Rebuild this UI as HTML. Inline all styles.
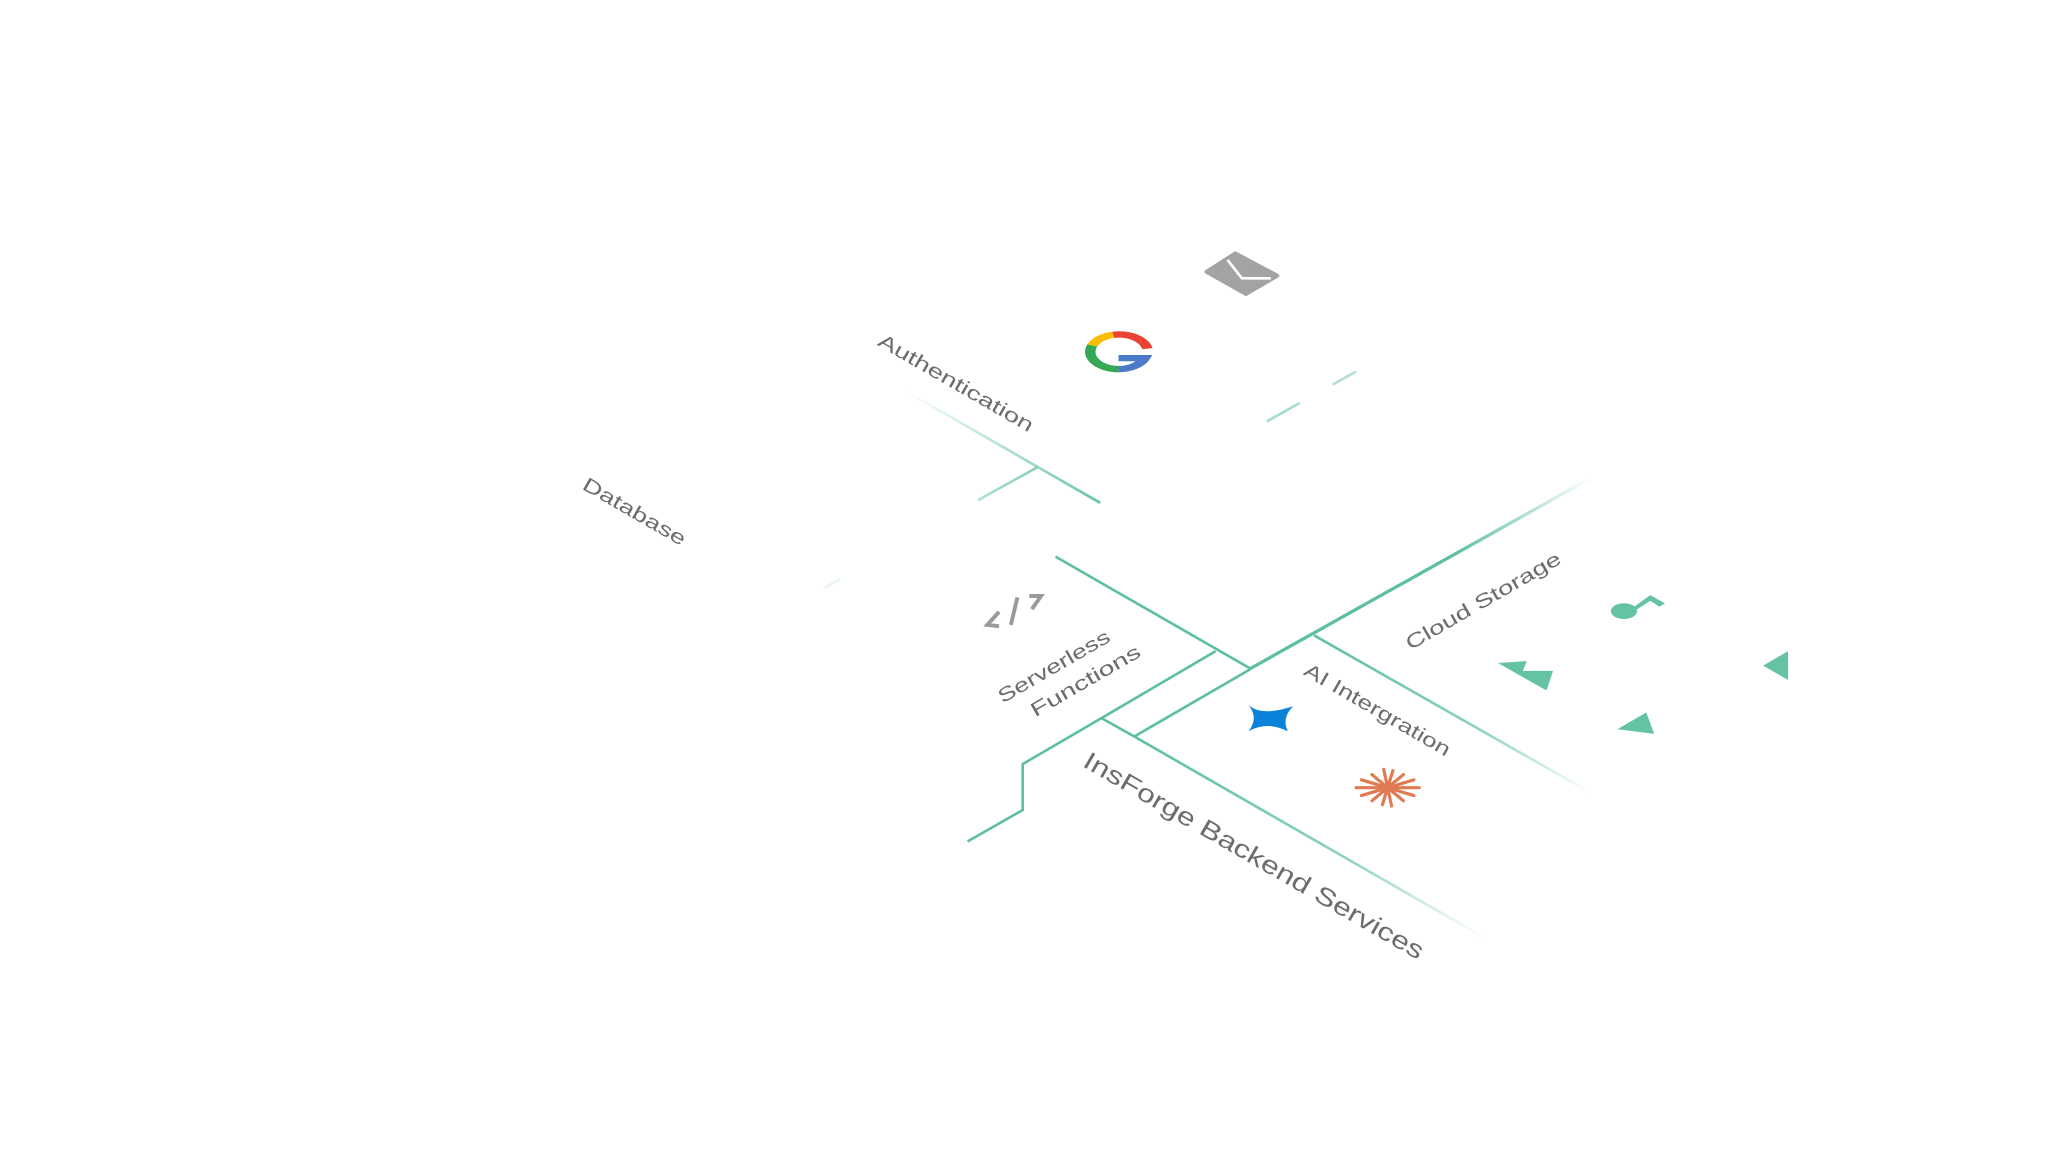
<!DOCTYPE html>
<html><head><meta charset="utf-8"><style>
html,body{margin:0;padding:0;background:#fff;}
svg{display:block;}
text{font-family:"Liberation Sans",Arial,sans-serif;fill:#6c6c6c;}
</style></head><body>
<svg width="2048" height="1152" viewBox="0 0 1560 877.5" preserveAspectRatio="none" xmlns="http://www.w3.org/2000/svg">
<defs>
<linearGradient id="gAuth" gradientUnits="userSpaceOnUse" x1="690" y1="298" x2="838" y2="383"><stop offset="0" stop-color="#66c4a4" stop-opacity="0"/><stop offset="0.6" stop-color="#66c4a4" stop-opacity="0.6"/><stop offset="1" stop-color="#66c4a4"/></linearGradient>
<linearGradient id="gBr" gradientUnits="userSpaceOnUse" x1="790" y1="356" x2="745" y2="381"><stop offset="0" stop-color="#66c4a4" stop-opacity="0.8"/><stop offset="1" stop-color="#66c4a4" stop-opacity="0.5"/></linearGradient>
<linearGradient id="gUp" gradientUnits="userSpaceOnUse" x1="951" y1="510" x2="1212" y2="364"><stop offset="0" stop-color="#5cc09e"/><stop offset="0.6" stop-color="#5cc09e"/><stop offset="1" stop-color="#5cc09e" stop-opacity="0"/></linearGradient>
<linearGradient id="gAI" gradientUnits="userSpaceOnUse" x1="1001" y1="484" x2="1212" y2="604"><stop offset="0" stop-color="#5cc09e"/><stop offset="0.6" stop-color="#5cc09e" stop-opacity="0.7"/><stop offset="1" stop-color="#5cc09e" stop-opacity="0"/></linearGradient>
<linearGradient id="gIns" gradientUnits="userSpaceOnUse" x1="864" y1="561" x2="1132" y2="715"><stop offset="0" stop-color="#5cc09e"/><stop offset="0.6" stop-color="#5cc09e" stop-opacity="0.7"/><stop offset="1" stop-color="#5cc09e" stop-opacity="0"/></linearGradient>
</defs>
<g fill="none" stroke-linecap="butt">
<line x1="690" y1="298" x2="838" y2="383" stroke="url(#gAuth)" stroke-width="2"/>
<line x1="790" y1="356" x2="745" y2="381" stroke="url(#gBr)" stroke-width="2"/>
<line x1="965" y1="321" x2="990" y2="307" stroke="#66c4a4" stroke-opacity="0.6" stroke-width="2"/>
<line x1="1015" y1="293" x2="1033" y2="283" stroke="#66c4a4" stroke-opacity="0.5" stroke-width="2"/>
<line x1="628" y1="448" x2="640" y2="441" stroke="#66c4a4" stroke-opacity="0.15" stroke-width="2"/>
<line x1="804" y1="424" x2="952" y2="509" stroke="#5cc09e" stroke-width="2"/>
<line x1="864" y1="561" x2="952" y2="510" stroke="#5cc09e" stroke-width="2"/>
<line x1="951" y1="510" x2="1212" y2="364" stroke="url(#gUp)" stroke-width="2.5"/>
<line x1="1001" y1="484" x2="1212" y2="604" stroke="url(#gAI)" stroke-width="2"/>
<polyline points="926,496 839,547 779,582 779,617 737,641" stroke="#5cc09e" stroke-width="2"/>
<line x1="839" y1="547" x2="864" y2="561" stroke="#5cc09e" stroke-width="2"/>
<line x1="864" y1="561" x2="1132" y2="715" stroke="url(#gIns)" stroke-width="2"/>
</g>
<text transform="translate(728,292) rotate(30)" text-anchor="middle" dominant-baseline="central" font-size="15" textLength="134" lengthAdjust="spacingAndGlyphs">Authentication</text>
<text transform="translate(483,390) rotate(30)" text-anchor="middle" dominant-baseline="central" font-size="15" textLength="88" lengthAdjust="spacingAndGlyphs">Database</text>
<text transform="translate(803,508) rotate(-30)" text-anchor="middle" dominant-baseline="central" font-size="15" textLength="96" lengthAdjust="spacingAndGlyphs">Serverless</text>
<text transform="translate(827,519) rotate(-30)" text-anchor="middle" dominant-baseline="central" font-size="15" textLength="94" lengthAdjust="spacingAndGlyphs">Functions</text>
<text transform="translate(1130,458) rotate(-30)" text-anchor="middle" dominant-baseline="central" font-size="15" textLength="134" lengthAdjust="spacingAndGlyphs">Cloud Storage</text>
<text transform="translate(1049,541) rotate(30)" text-anchor="middle" dominant-baseline="central" font-size="15" textLength="126" lengthAdjust="spacingAndGlyphs">AI Intergration</text>
<text transform="translate(955,652) rotate(30)" text-anchor="middle" dominant-baseline="central" font-size="19" textLength="296" lengthAdjust="spacingAndGlyphs">InsForge Backend Services</text>
<path d="M919,207 L941,193 L973,210 L949,224 Z" fill="#a3a3a3" stroke="#a3a3a3" stroke-width="3" stroke-linejoin="round"/>
<polyline points="935,198 946,212 968,212" fill="none" stroke="#fff" stroke-width="2"/>
<g transform="translate(852,268) scale(1,0.6)">
<path d="M-20,-8 A22,22 0 0 1 -4,-21.6" fill="none" stroke="#fbbc05" stroke-width="8"/>
<path d="M-4,-21.6 A22,22 0 0 1 22,-4" fill="none" stroke="#ea4335" stroke-width="8"/>
<path d="M-20,-8 A22,22 0 0 0 0,22" fill="none" stroke="#34a853" stroke-width="8"/>
<path d="M0,22 A22,22 0 0 0 20,8 L0,8" fill="none" stroke="#4a7ac8" stroke-width="8"/>
</g>
<g stroke="#9a9a9a" stroke-width="3" fill="none">
<polyline points="761,466 752,476 761,477"/>
<line x1="775" y1="455" x2="770" y2="476"/>
<polyline points="784,454 793,454 786,464"/>
</g>
<path d="M951,537 Q961,546 985,538 Q976,547 981,557 Q965,549 951,557 Q959,547 951,537 Z" fill="#0a82d8"/>
<g stroke="#e07a52" stroke-width="2.4" stroke-linecap="round" transform="translate(1057,600)">
<line x1="-24" y1="0" x2="24" y2="0"/><line x1="-20" y1="-6" x2="20" y2="6"/><line x1="-20" y1="6" x2="20" y2="-6"/>
<line x1="-12" y1="-10" x2="12" y2="10"/><line x1="-12" y1="10" x2="12" y2="-10"/>
<line x1="-3" y1="-14" x2="3" y2="14"/><line x1="4" y1="-13" x2="-4" y2="13"/>
</g>
<ellipse cx="1237" cy="465.5" rx="10" ry="6" fill="#64c4a2"/>
<polygon points="1238,467 1257,453.3 1268.3,459.6 1264,462.2 1257,457.6 1240.4,468.5" fill="#64c4a2"/>
<polygon points="1141,505 1163,503.5 1160,511 1183,511 1178,526" fill="#64c4a2"/>
<polygon points="1343,507 1362,496 1362,518" fill="#64c4a2"/>
<polygon points="1232,555.5 1254,542.6 1260,559" fill="#64c4a2"/>
</svg>
</body></html>
